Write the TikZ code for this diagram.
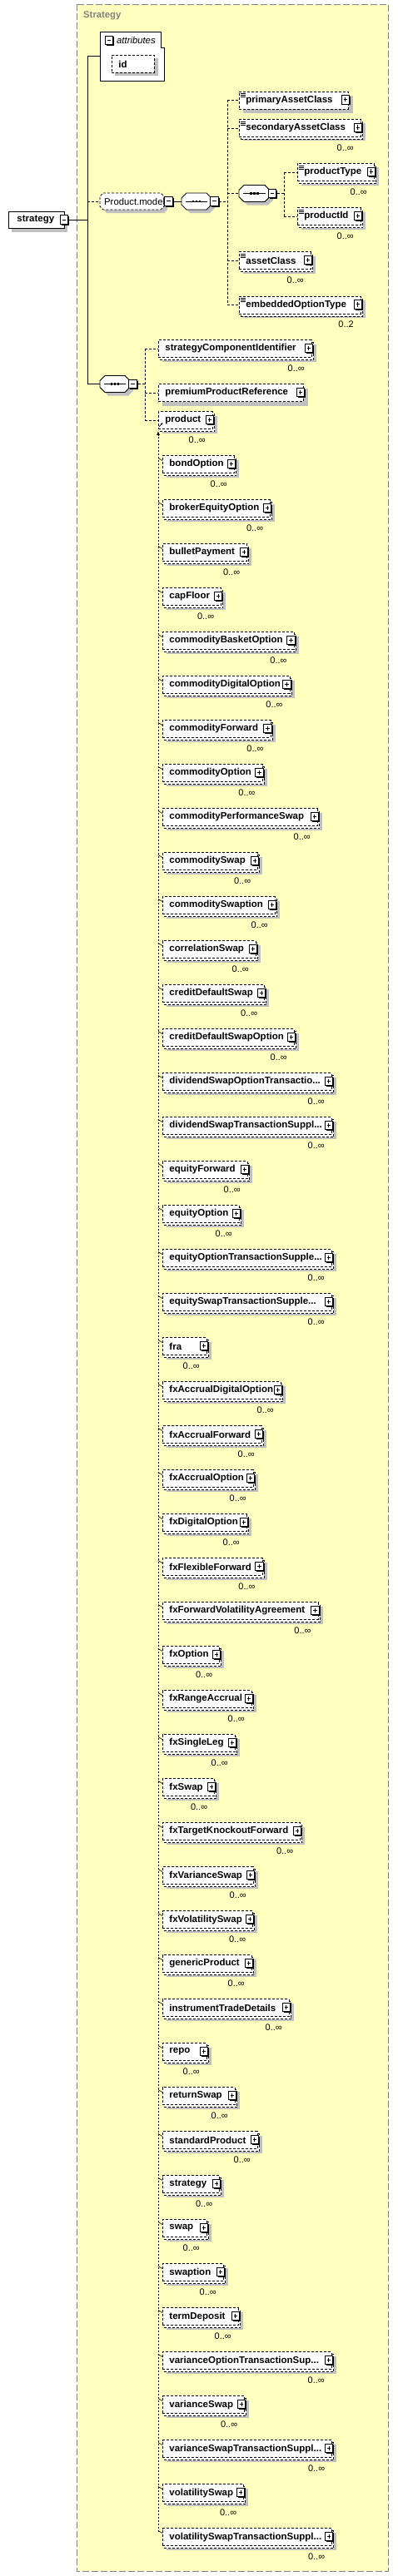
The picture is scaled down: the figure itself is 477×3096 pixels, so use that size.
\documentclass[tikz,border=0pt]{standalone}
\usepackage{fontspec}
\setmainfont{Liberation Sans}
\usetikzlibrary{arrows.meta}
\definecolor{bgy}{HTML}{FFFFC0}
\definecolor{shg}{HTML}{C0C0C0}
\definecolor{frg}{HTML}{808080}
\newcommand\tdots{...}
\tikzset{
  dsh/.style={dash pattern=on 3pt off 2pt},
  conn/.style={line width=0.9pt},
  ebox/.style={draw, fill=white, line width=0.9pt, dsh, inner xsep=8pt, inner ysep=0pt, minimum height=21pt, align=left, font=\bfseries\fontsize{11.5}{13}\selectfont},
  mult/.style={inner sep=0pt, font=\fontsize{11}{13}\selectfont},
}
\newcommand\pmbox[3]{%
  \fill[black] (#1+1.5,#2-4) rectangle (#1+11,#2+6.5);
  \draw[line width=0.8pt, fill=white] (#1,#2-5.5) rectangle (#1+9.5,#2+5);
  \draw[line width=0.8pt] (#1+2.5,#2-0.25) -- (#1+7,#2-0.25);
  \ifnum#3=1 \draw[line width=0.8pt] (#1+4.75,#2-3) -- (#1+4.75,#2+2.5);\fi}
\newcommand\octa[6]{%
  \begin{scope}[shift={(4,4)}]
  \fill[shg] (#2+#5,#3-10) -- (#2+#4-#5,#3-10) -- (#2+#4,#3-10+#5) -- (#2+#4,#3+10-#5) -- (#2+#4-#5,#3+10) -- (#2+#5,#3+10) -- (#2,#3+10-#5) -- (#2,#3-10+#5) -- cycle;
  \end{scope}
  \draw[line width=0.9pt, fill=white, #6] (#2+#5,#3-10) -- (#2+#4-#5,#3-10) -- (#2+#4,#3-10+#5) -- (#2+#4,#3+10-#5) -- (#2+#4-#5,#3+10) -- (#2+#5,#3+10) -- (#2,#3+10-#5) -- (#2,#3-10+#5) -- cycle;
  \node[inner sep=0pt, minimum width=#4 pt, minimum height=20pt, anchor=west] (#1) at (#2,#3) {};}
\newcommand\seqicon[3]{%
  \draw[line width=0.9pt] (#1+5,#2) -- (#1+#3-5,#2);
  \fill (#1+#3/2-5.3,#2-1.3) rectangle (#1+#3/2-2.7,#2+1.3);
  \fill (#1+#3/2-1.3,#2-1.3) rectangle (#1+#3/2+1.3,#2+1.3);
  \fill (#1+#3/2+2.7,#2-1.3) rectangle (#1+#3/2+5.3,#2+1.3);}
\newcommand\elem[7]{%
  \pgfmathsetmacro\ew{#4-#2-19}%
  \fill[shg] (#2+5,#3-5) rectangle (#4+3,#3+16);
  \if\relax\detokenize{#6}\relax\else
    \draw[line width=0.9pt, dsh, fill=white] (#2+2.5,#3-7) rectangle (#4-0.5,#3+14);
  \fi
  \node[ebox, text width=\ew pt, anchor=west] (#1) at (#2,#3+0.5) {#5};
  \pmbox{#4-11}{#3}{1}%
  \ifnum#7=1
    \draw[line width=0.6pt] (#2+2,#3-7.5) -- (#2+7.5,#3-7.5) (#2+2,#3-5.5) -- (#2+7.5,#3-5.5) (#2+2,#3-3.5) -- (#2+7.5,#3-3.5);
  \fi
  \if\relax\detokenize{#6}\relax\else
    \node[mult, anchor=east] (#1-m) at (#4-11,#3+24) {#6};
  \fi}
\begin{document}
\begin{tikzpicture}[x=1pt,y=-1pt]
\useasboundingbox (0,0) rectangle (477,3096);
% container
\fill[bgy] (92.5,5.5) rectangle (466,3090);
\draw[frg, line width=1pt, dash pattern=on 8pt off 3pt] (92.5,5.5) rectangle (466,3090);
\node[anchor=west, inner sep=0pt, text=frg, font=\bfseries\fontsize{11.3}{13}\selectfont] (title) at (100,19) {Strategy};

% root
\fill[shg] (14,258) rectangle (81,278.5);
\node[draw, fill=white, line width=0.9pt, inner xsep=10pt, inner ysep=0pt, text width=47pt, minimum height=20pt, align=left, anchor=west, font=\bfseries\fontsize{11.5}{13}\selectfont] (root) at (10,264.3) {strategy};
\pmbox{72}{264.3}{0}

% attributes
\node[inner sep=0pt, minimum width=77pt, minimum height=59pt, anchor=north west] (attr) at (120,38) {};
\draw[line width=0.9pt, fill=white] (120,38) -- (193,38) -- (193,57) -- (197,57) -- (197,97) -- (120,97) -- cycle;
\pmbox{126}{48.5}{0}
\node[anchor=west, inner sep=0pt, font=\itshape\fontsize{11.3}{13}\selectfont] (attrl) at (140,48) {attributes};
\fill[shg] (138,70) rectangle (190,91);
\node[ebox, text width=35pt, anchor=north west] (idn) at (134,66) {id};

% compositors
\octa{pm}{120}{242}{77}{4}{dsh}
\node[anchor=west, inner sep=0pt, font=\fontsize{11.3}{13}\selectfont] (pmt) at (125,242) {Product.model};
\pmbox{197.5}{242}{0}
\octa{seq1}{218}{242}{36}{6}{}
\seqicon{218}{242}{36}
\pmbox{252.5}{242}{0}
\octa{seqi}{287}{232.5}{37}{6}{}
\seqicon{287}{232.5}{37}
\pmbox{322}{232.5}{0}
\octa{seq2}{120}{461.5}{36}{6}{}
\seqicon{120}{461.5}{36}
\pmbox{154.5}{461.5}{0}

% elements
\elem{pac}{287}{120}{421}{primaryAssetClass}{}{1}
\elem{sac}{287}{153.5}{436}{secondaryAssetClass}{0..∞}{1}
\elem{ptype}{357}{206.5}{452}{productType}{0..∞}{1}
\elem{pid}{357}{259.5}{436}{productId}{0..∞}{1}
\elem{acl}{287}{312.5}{376}{assetClass}{0..∞}{1}
\elem{eot}{287}{366}{436}{embeddedOptionType}{0..2}{1}
\elem{sci}{190}{418.5}{377}{strategyComponentIdentifier}{0..∞}{0}
\elem{ppr}{190}{471.5}{367}{premiumProductReference}{}{0}
\elem{prod}{190}{504.5}{258}{product}{0..∞}{0}

% connectors
\coordinate (tr) at (105,0);
\coordinate (v1) at (273,0);
\coordinate (v2) at (341,0);
\coordinate (v3) at (174,0);
\draw[conn] ([xshift=5.5pt]root.east) -- (tr |- root.east);
\draw[conn] (tr |- attr.west) -- (tr |- seq2.west);
\draw[conn] (tr |- attr.west) -- (attr.west);
\draw[conn, dsh] (tr |- pm.west) -- (pm.west);
\draw[conn] (tr |- seq2.west) -- (seq2.west);
\draw[conn] ([xshift=11pt]pm.east) -- (seq1.west);
\draw[conn, dsh] ([xshift=9pt]seq1.east) -- (v1 |- seq1.east);
\draw[conn, dsh] (v1 |- pac.west) -- (v1 |- eot.west);
\foreach \n in {pac,sac,acl,eot} \draw[conn, dsh] (v1 |- \n.west) -- (\n.west);
\draw[conn, dsh] (v1 |- seqi.west) -- (seqi.west);
\draw[conn, dsh] ([xshift=9pt]seqi.east) -- (v2 |- seqi.east);
\draw[conn, dsh] (v2 |- ptype.west) -- (v2 |- pid.west);
\foreach \n in {ptype,pid} \draw[conn, dsh] (v2 |- \n.west) -- (\n.west);
\draw[conn, dsh] ([xshift=10pt]seq2.east) -- (v3 |- seq2.east);
\draw[conn, dsh] (v3 |- sci.west) -- (v3 |- prod.west);
\foreach \n in {sci,ppr,prod} \draw[conn, dsh] (v3 |- \n.west) -- (\n.west);

% substitution group members
\foreach \p/\t [count=\k from 0] in {
284/bondOption, 327.3/brokerEquityOption, 299.3/bulletPayment, 268.3/capFloor,
355.7/commodityBasketOption, 350.7/commodityDigitalOption, 327.7/commodityForward, 317.7/commodityOption,
384/commodityPerformanceSwap, 312.3/commoditySwap, 333/commoditySwaption, 310/correlationSwap,
320.3/creditDefaultSwap, 356/creditDefaultSwapOption, 401/dividendSwapOptionTransactio\tdots, 401/dividendSwapTransactionSuppl\tdots,
300/equityForward, 290/equityOption, 401/equityOptionTransactionSupple\tdots, 401/equitySwapTransactionSupple\tdots,
251/fra, 340/fxAccrualDigitalOption, 317/fxAccrualForward, 307/fxAccrualOption,
299/fxDigitalOption, 317.7/fxFlexibleForward, 384.7/fxForwardVolatilityAgreement, 266.3/fxOption,
305/fxRangeAccrual, 285/fxSingleLeg, 260.3/fxSwap, 363.3/fxTargetKnockoutForward,
307/fxVarianceSwap, 306.3/fxVolatilitySwap, 305/genericProduct, 350/instrumentTradeDetails,
251/repo, 285/returnSwap, 312/standardProduct, 266.3/strategy,
251/swap, 271/swaption, 289/termDeposit, 401/varianceOptionTransactionSup\tdots,
296.3/varianceSwap, 401.3/varianceSwapTransactionSuppl\tdots, 295.3/volatilitySwap, 401.3/volatilitySwapTransactionSuppl\tdots}{
  \pgfmathsetmacro\cy{557.5+53*\k}
  \elem{m\k}{195}{\cy}{\p}{\t}{0..∞}{0}
  \draw[line width=0.6pt] (190,\cy-7) -- ([yshift=4.5pt]m\k.west);
}
\coordinate (subtop) at ([yshift=-2pt]prod.south west);
\coordinate (subbot) at (190,3043);
\draw[conn, dash pattern=on 2pt off 2pt, -{Latex[length=5pt,width=4pt]}] (subbot) -- (subtop);
\draw[line width=0.7pt, -{Latex[length=2.5pt,width=2.5pt]}] (191,513) -- (195.5,508);
\end{tikzpicture}
\end{document}
